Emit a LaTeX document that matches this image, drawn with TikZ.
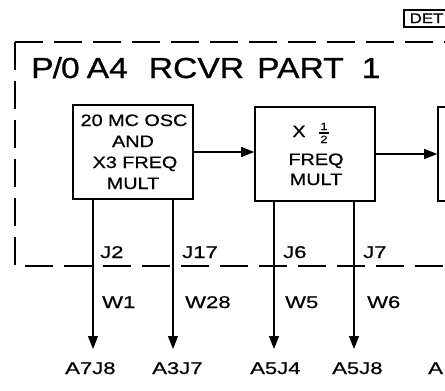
\documentclass[tikz,border=0pt]{standalone}
\usepackage{fontspec}
\newfontfamily\lett[FakeStretch=1.2,FakeBold=0.6]{Liberation Sans}
\newfontfamily\lettL[FakeStretch=1.3,FakeBold=0.6]{Liberation Sans}
\newfontfamily\lettT[FakeStretch=1.16,FakeBold=0.8]{Liberation Sans}
\usetikzlibrary{arrows.meta}
\begin{document}
\begin{tikzpicture}[x=1pt,y=-1pt,
  blk/.style={draw, line width=1.6pt, inner sep=0pt},
  txt/.style={font=\lett\fontsize{16.5}{18}\selectfont, inner sep=0pt, anchor=base},
  lbl/.style={font=\lettL\fontsize{17}{18}\selectfont, inner sep=0pt, anchor=base west},
  frac/.style={font=\lett\fontsize{10.5}{11}\selectfont, inner sep=0pt, anchor=base},
  frame/.style={line width=2pt, dash pattern=on 28pt off 11pt},
  sig/.style={line width=1.4pt, -{Triangle[length=13pt,width=10pt]}}]
\useasboundingbox (0,0) rectangle (445,391);
\clip (0,0) rectangle (445,391);
\fill[white] (0,0) rectangle (445,391);

% detail tag
\node[draw, line width=1.5pt, anchor=north west, inner xsep=6pt, inner ysep=0pt,
      minimum height=17pt, font=\lett\fontsize{14}{15}\selectfont] (det) at (403,9) {DET};

% dashed frame
\coordinate (ftl) at (15,42);
\coordinate (fbl) at (15,266);
\coordinate (ftr) at (470,42);
\coordinate (fbr) at (470,266);
\draw[frame] (ftl) -- (ftr);
\draw[frame] (ftl) -- (fbl) -- (fbr);

% title
\node[anchor=base west, inner sep=0pt, font=\lettT\fontsize{29}{32}\selectfont] (title) at (31,78)
  {P\kern-1pt/\kern-1pt0\hspace{7pt}A4\hspace{21pt}RCVR\hspace{13pt}PART\hspace{18pt}1};

% blocks
\node[blk, minimum width=120pt, minimum height=94pt] (b1) at (133,152) {};
\node[blk, minimum width=120pt, minimum height=94pt] (b2) at (315,154) {};
\node[blk, minimum width=60pt, minimum height=94pt] (b3) at (468,154) {};

% block 1 text
\node[txt] (t11) at (134,126) {20 MC OSC};
\node[txt] (t12) at (133,147) {AND};
\node[txt] (t13) at (135,168) {X3 FREQ};
\node[txt] (t14) at (133,189) {MULT};

% block 2 text
\node[txt] (t21) at (299,137) {X};
\node[frac] (f1) at (324,130) {1};
\node[frac] (f2) at (324,143) {2};
\draw[line width=1.2pt] (319,133) -- (329,133);
\node[txt] (t22) at (316,165) {FREQ};
\node[txt] (t23) at (316,185) {MULT};

% arrows between blocks
\draw[sig] (b1.east) -- (b1.east -| b2.west);
\draw[sig] (b2.east) -- (b2.east -| b3.west);

% output lines
\coordinate (e1) at (93,349);
\coordinate (e2) at (173,349);
\coordinate (e3) at (274,349);
\coordinate (e4) at (354,349);
\draw[sig] (b1.south -| e1) -- (e1);
\draw[sig] (b1.south -| e2) -- (e2);
\draw[sig] (b2.south -| e3) -- (e3);
\draw[sig] (b2.south -| e4) -- (e4);

% jack labels
\node[lbl] (j2) at (100,258) {J2};
\node[lbl] (j17) at (182,258) {J17};
\node[lbl] (j6) at (283,258) {J6};
\node[lbl] (j7) at (363,258) {J7};

% cable labels
\node[lbl] (w1) at (102,308) {W1};
\node[lbl] (w28) at (185,308) {W28};
\node[lbl] (w5) at (285,308) {W5};
\node[lbl] (w6) at (367,308) {W6};

% destination labels
\node[lbl] (d1) at (65,374) {A7J8};
\node[lbl] (d2) at (152,374) {A3J7};
\node[lbl] (d3) at (250,374) {A5J4};
\node[lbl] (d4) at (332,374) {A5J8};
\node[lbl] (d5) at (428,374) {A};
\end{tikzpicture}
\end{document}
